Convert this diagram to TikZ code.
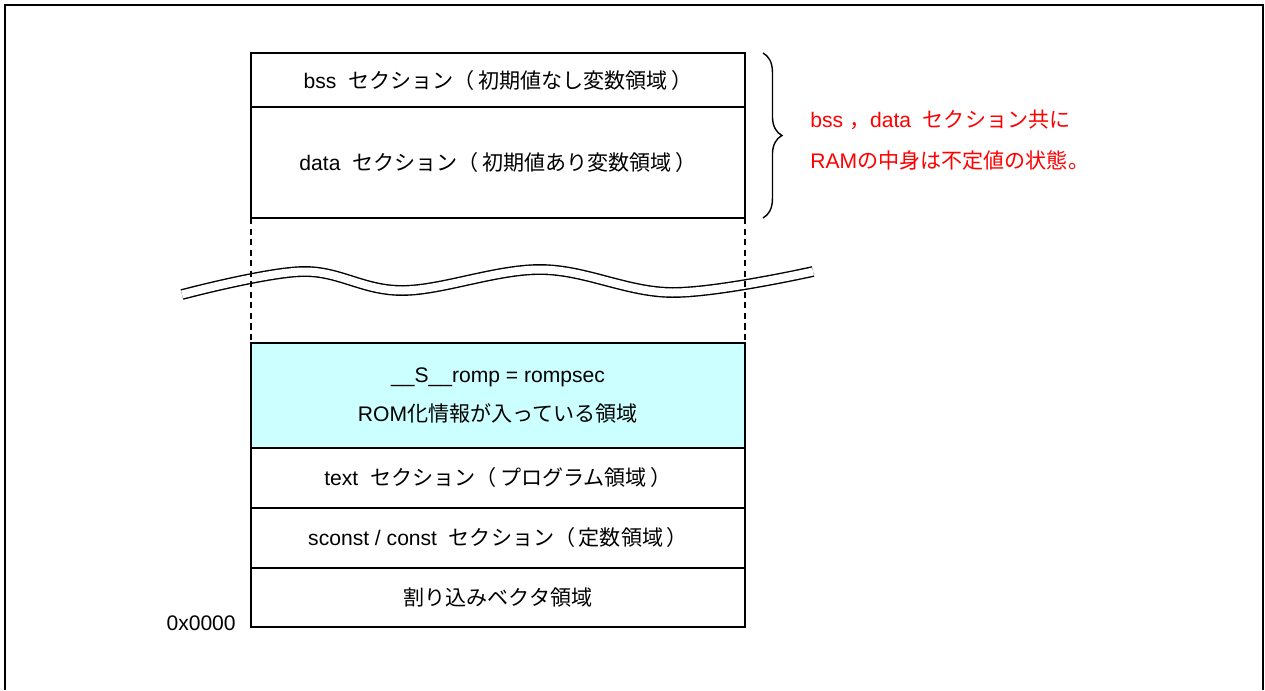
\documentclass[tikz,border=0pt]{standalone}
\usepackage{fontspec}
\setmainfont{Liberation Sans}
\newfontfamily\jpfont{Noto Sans CJK JP}
\usetikzlibrary{positioning,decorations.pathreplacing}
\definecolor{romcyan}{RGB}{204,255,255}
\newcommand{\jtxt}[1]{{\jpfont #1}}
\newcommand{\lpar}{\jtxt{（}\hspace{2pt}}
\newcommand{\rpar}{\hspace{2pt}\jtxt{）}}

\tikzset{
  sect/.style={draw, line width=0.8pt, minimum width=9.88cm, inner sep=0pt, outer sep=0pt,
    anchor=north, font=\fontsize{12pt}{14pt}\selectfont},
  note/.style={text=red, anchor=west, inner sep=0pt, font=\fontsize{12pt}{14pt}\selectfont},
}

\begin{document}
\begin{tikzpicture}[x=0.02cm, y=-0.02cm]
\useasboundingbox (0,0) rectangle (1265,690);
% outer frame, open at the bottom
\draw[line width=1.2pt] (5,690) -- (5,5) -- (1263,5) -- (1263,690);

% RAM area
\node[sect, minimum height=1.08cm] (bss) at (498,53) {bss\ \ \jtxt{セクション}\lpar\jtxt{初期値なし変数領域}\rpar};
\node[sect, minimum height=2.22cm, below=0pt of bss] (data) {data\ \ \jtxt{セクション}\lpar\jtxt{初期値あり変数領域}\rpar};

% ROM area
\node[sect, fill=romcyan, minimum height=2.1cm, align=center] (romp) at (498,343)
  {\_\_S\_\_romp = rompsec\\[8pt]ROM\jtxt{化情報が入っている領域}};
\node[sect, minimum height=1.2cm, below=0pt of romp] (text) {text\ \ \jtxt{セクション}\lpar\jtxt{プログラム領域}\rpar};
\node[sect, minimum height=1.2cm, below=0pt of text] (sconst) {sconst / const\ \ \jtxt{セクション}\lpar\jtxt{定数領域}\rpar};
\node[sect, minimum height=1.18cm, below=0pt of sconst] (vect) {\jtxt{割り込みベクタ領域}};
\node[anchor=east, inner sep=0pt, font=\fontsize{12pt}{14pt}\selectfont] (addr)
  at ([xshift=-0.3cm, yshift=0.08cm]vect.south west) {0x0000};

% break in the address range
\draw[line width=0.8pt, double=white, double distance=0.16cm]
  plot[smooth, tension=0.6] coordinates {(182,294.5) (303,271.5) (403,290.5) (541,269.5) (672,292.5) (813,271.5)};
\draw[line width=0.7pt, dash pattern=on 3.5pt off 2.5pt] (data.south west) -- (romp.north west);
\draw[line width=0.7pt, dash pattern=on 3.5pt off 2.5pt] (data.south east) -- (romp.north east);

% note on bss / data
\draw[line width=0.8pt, decorate, decoration={brace, amplitude=0.38cm}]
  ([xshift=0.36cm]bss.north east) -- ([xshift=0.36cm]data.south east);
\node[note] (note1) at (810,120) {bss \jtxt{，}data\ \ \jtxt{セクション共に}};
\node[note] (note2) at (810,160) {RAM\jtxt{の中身は不定値の状態。}};
\end{tikzpicture}
\end{document}
